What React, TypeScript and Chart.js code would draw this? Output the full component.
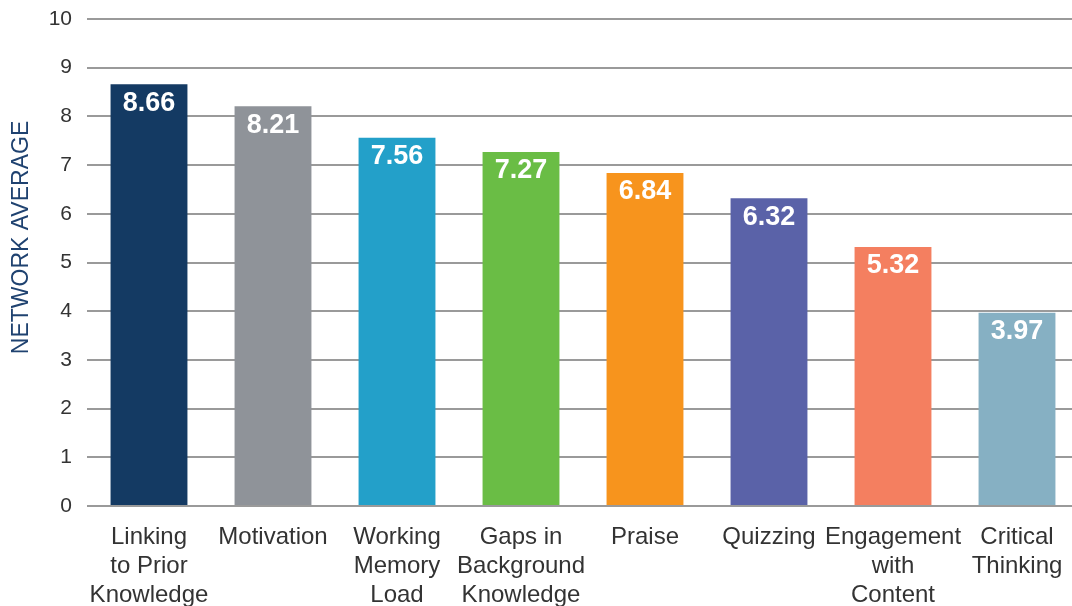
import React, { useEffect, useRef } from "react";
import { Chart, registerables } from "chart.js";

Chart.register(...registerables);

const categories: (string | string[])[] = [
  ["Linking", "to Prior", "Knowledge"],
  "Motivation",
  ["Working", "Memory", "Load"],
  ["Gaps in", "Background", "Knowledge"],
  "Praise",
  "Quizzing",
  ["Engagement", "with", "Content"],
  ["Critical", "Thinking"],
];
const values = [8.66, 8.21, 7.56, 7.27, 6.84, 6.32, 5.32, 3.97];
const barColors = [
  "#143a63",
  "#8f9399",
  "#23a0c9",
  "#6abd45",
  "#f7941d",
  "#5a62a8",
  "#f47f60",
  "#86b0c3",
];
const yTitle = "NETWORK AVERAGE";
const yMin = 0;
const yMax = 10;

const FONT = "'Liberation Sans', Arial, Helvetica, sans-serif";

const valueLabels = {
  id: "valueLabels",
  afterDatasetsDraw(chart: any) {
    const ctx = chart.ctx;
    const meta = chart.getDatasetMeta(0);
    ctx.save();
    ctx.fillStyle = "#ffffff";
    ctx.font = `bold 27px ${FONT}`;
    ctx.textAlign = "center";
    ctx.textBaseline = "middle";
    meta.data.forEach((bar: any, i: number) => {
      ctx.fillText(values[i].toFixed(2), bar.x, bar.y + 19);
    });
    ctx.restore();
  },
};

const yTitlePlugin = {
  id: "yTitlePlugin",
  afterDraw(chart: any) {
    const ctx = chart.ctx;
    const area = chart.chartArea;
    ctx.save();
    ctx.translate(22, (area.top + area.bottom) / 2 - 25);
    ctx.rotate(-Math.PI / 2);
    ctx.fillStyle = "#1f4270";
    ctx.font = `23px ${FONT}`;
    ctx.textAlign = "center";
    ctx.textBaseline = "middle";
    ctx.fillText(yTitle, 0, 0);
    ctx.restore();
  },
};

export default function App() {
  const ref = useRef<HTMLCanvasElement>(null);
  useEffect(() => {
    if (!ref.current) return;
    const chart = new Chart(ref.current, {
      type: "bar",
      data: {
        labels: categories,
        datasets: [
          {
            data: values,
            backgroundColor: barColors,
            borderWidth: 0,
            categoryPercentage: 1,
            barPercentage: 0.62,
          },
        ],
      },
      options: {
        responsive: false,
        animation: false,
        devicePixelRatio: 1,
        layout: { padding: { top: 19, right: 1, left: 0, bottom: 0 } },
        plugins: {
          legend: { display: false },
          tooltip: { enabled: false },
          title: { display: false },
        },
        scales: {
          x: {
            grid: { display: false },
            border: { display: false },
            ticks: {
              color: "#333333",
              font: { family: FONT, size: 24, lineHeight: 1.2 },
              padding: 9,
              maxRotation: 0,
              autoSkip: false,
            },
            afterFit: (s: any) => {
              s.height = 114;
              s.paddingLeft = 0;
              s.paddingRight = 0;
            },
          },
          y: {
            min: yMin,
            max: yMax,
            grid: {
              color: "#9a9a9a",
              lineWidth: 2,
              drawTicks: false,
            },
            border: { display: false },
            ticks: {
              stepSize: 1,
              color: "#333333",
              font: { family: FONT, size: 21 },
              padding: 15,
            },
            afterFit: (s: any) => {
              s.width = 87;
              s.paddingTop = 0;
              s.paddingBottom = 0;
            },
          },
        },
      },
      plugins: [valueLabels, yTitlePlugin],
    });
    return () => chart.destroy();
  }, []);
  return (
    <div
      style={{
        position: "fixed",
        left: 0,
        top: 0,
        width: 1072,
        height: 606,
        overflow: "hidden",
        background: "#ffffff",
      }}
    >
      <canvas ref={ref} width={1080} height={620} style={{ display: "block" }} />
    </div>
  );
}
